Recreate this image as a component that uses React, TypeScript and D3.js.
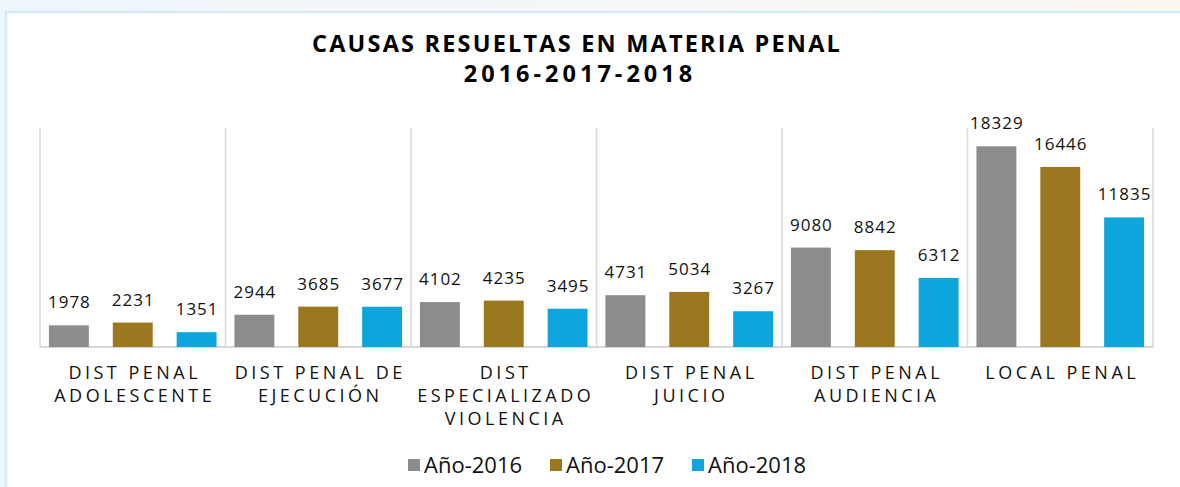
import React, { useEffect, useRef } from "react"
import * as d3 from "d3"

const categories = [
  ["DIST PENAL", "ADOLESCENTE"],
  ["DIST PENAL DE", "EJECUCIÓN"],
  ["DIST", "ESPECIALIZADO", "VIOLENCIA"],
  ["DIST PENAL", "JUICIO"],
  ["DIST PENAL", "AUDIENCIA"],
  ["LOCAL PENAL"],
]
const seriesNames = ["Año-2016", "Año-2017", "Año-2018"]
const values2016 = [1978, 2944, 4102, 4731, 9080, 18329]
const values2017 = [2231, 3685, 4235, 5034, 8842, 16446]
const values2018 = [1351, 3677, 3495, 3267, 6312, 11835]
const colors = ["#8c8c8c", "#9b7720", "#0ea5dc"]

const App = () => {
  const svgRef = useRef(null)

  useEffect(() => {
    const width = 1180
    const height = 487
    const left = 40
    const right = 1153
    const top = 128
    const baseline = 347
    const svg = d3.select(svgRef.current)
    svg.selectAll("*").remove()

    // backdrop + frame
    const defs = svg.append("defs")
    const grad = defs.append("linearGradient").attr("id", "bg").attr("x1", 0).attr("x2", 1)
    grad.append("stop").attr("offset", "0%").attr("stop-color", "#eef6fd")
    grad.append("stop").attr("offset", "100%").attr("stop-color", "#fbf8f1")
    svg.append("rect").attr("width", width).attr("height", height).attr("fill", "url(#bg)")
    svg.append("rect").attr("x", 6).attr("y", 12).attr("width", width + 10).attr("height", height)
      .attr("fill", "#fff").attr("stroke", "#d4ebfa").attr("stroke-width", 2.5)

    const keys = categories.map((c, i) => String(i))
    const x0 = d3.scaleBand().domain(keys).range([left, right]).padding(0)
    const x1 = d3.scaleBand().domain(seriesNames).range([0, x0.bandwidth()])
      .paddingInner(0.375).paddingOuter(0.14)
    const y = d3.scaleLinear().domain([0, 20000]).range([baseline, top])

    const rows = [values2016, values2017, values2018]
    const cells = (i) => seriesNames.map((s, j) => ({ s, v: rows[j][i], c: colors[j] }))

    // separators
    const bounds = keys.map(k => x0(k)).concat([right])
    svg.append("g").selectAll("line").data(bounds).join("line")
      .attr("x1", d => d).attr("x2", d => d)
      .attr("y1", top).attr("y2", baseline)
      .attr("stroke", "#d9d9d9").attr("stroke-width", 1.5)
    svg.append("line").attr("x1", left).attr("x2", right)
      .attr("y1", baseline).attr("y2", baseline)
      .attr("stroke", "#d9d9d9").attr("stroke-width", 2)

    const groups = svg.append("g").selectAll("g").data(keys).join("g")
      .attr("transform", d => `translate(${x0(d)},0)`)

    groups.selectAll("rect")
      .data((d, i) => cells(i))
      .join("rect")
      .attr("x", d => x1(d.s))
      .attr("width", x1.bandwidth())
      .attr("y", d => y(d.v))
      .attr("height", d => baseline - y(d.v))
      .attr("fill", d => d.c)

    groups.selectAll("text.val")
      .data((d, i) => cells(i))
      .join("text")
      .attr("class", "val")
      .attr("x", d => x1(d.s) + x1.bandwidth() / 2 + 0.5)
      .attr("y", d => y(d.v) - 17)
      .attr("text-anchor", "middle")
      .attr("font-family", "Open Sans")
      .attr("font-size", 17)
      .attr("letter-spacing", 1)
      .attr("fill", "#111")
      .text(d => String(d.v))

    // category labels
    groups.append("text")
      .attr("class", "cat")
      .attr("text-anchor", "middle")
      .attr("font-family", "Open Sans")
      .attr("font-size", 18)
      .attr("letter-spacing", 3.5)
      .attr("fill", "#111")
      .selectAll("tspan")
      .data((d) => categories[+d])
      .join("tspan")
      .attr("x", x0.bandwidth() / 2 + 2)
      .attr("y", (d, i) => 379 + i * 23)
      .text(d => d)

    // title
    const title = svg.append("text").attr("text-anchor", "middle")
      .attr("font-family", "Open Sans").attr("font-weight", "bold")
      .attr("font-size", 23.5).attr("fill", "#000")
    title.append("tspan").attr("x", 577).attr("y", 52).attr("letter-spacing", 2.2)
      .text("CAUSAS RESUELTAS EN MATERIA PENAL")
    title.append("tspan").attr("x", 580).attr("y", 82).attr("letter-spacing", 4)
      .text("2016-2017-2018")

    // legend
    const legend = svg.append("g").selectAll("g").data(seriesNames).join("g")
      .attr("transform", (d, i) => `translate(${408 + i * 142},459)`)
    legend.append("rect").attr("width", 12).attr("height", 12).attr("fill", (d, i) => colors[i])
    legend.append("text").attr("x", 16).attr("y", 13.5)
      .attr("font-family", "Open Sans").attr("font-size", 22)
      .attr("fill", "#111").text(d => d)
  }, [])

  return (
    <svg ref={svgRef} width={1180} height={487}
      style={{ position: "absolute", left: 0, top: 0, display: "block" }} />
  )
}

export default App
